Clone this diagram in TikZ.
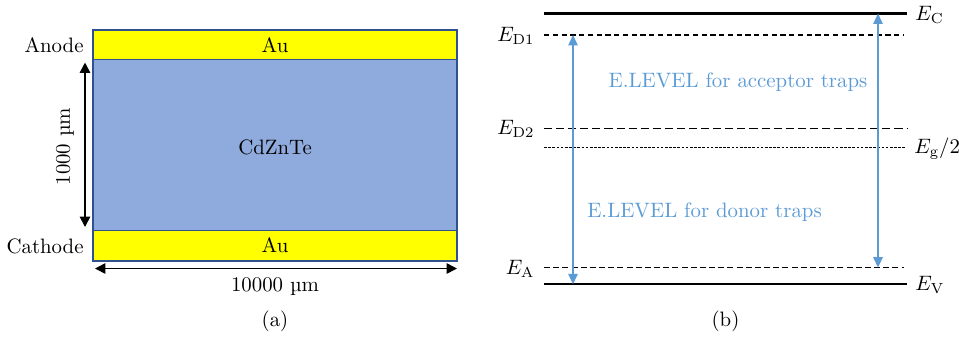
\documentclass[tikz,border=0pt]{standalone}
\usepackage{fontspec}
\usetikzlibrary{arrows.meta}
\definecolor{czt}{HTML}{8FAADC}
\definecolor{gold}{HTML}{FFFF00}
\definecolor{rim}{HTML}{2F528F}
\definecolor{trap}{HTML}{5B9BD5}
\tikzset{
  layer/.style={draw=rim, line width=0.6pt},
  dim/.style={line width=0.8pt, {Triangle[length=5pt,width=5pt]}-{Triangle[length=5pt,width=5pt]}},
  trapdim/.style={trap, line width=0.7pt, {Triangle[length=5pt,width=4.5pt]}-{Triangle[length=5pt,width=4.5pt]}},
  band/.style={line width=1pt},
  lvl/.style={line width=0.5pt},
}
\begin{document}
\begin{tikzpicture}[x=0.48pt, y=-0.48pt]
          \useasboundingbox (0, 0) rectangle (959, 336);
        %
        % (a) detector layers:
          \fill[gold] (93, 30) rectangle (457, 59.5);
          \fill[czt] (93, 59.5) rectangle (457, 230.5);
          \fill[gold] (93, 230.5) rectangle (457, 261);
          \draw[layer] (93, 30) rectangle (457, 261);
          \draw[layer] (93, 59.5) -- (457, 59.5);
          \draw[layer] (93, 230.5) -- (457, 230.5);
          \node (auTop) at (275, 45) {Au};
          \node (cztBody) at (275, 147) {CdZnTe};
          \node (auBot) at (275, 245.5) {Au};
          \node[anchor=east, inner sep=0pt] (anode) at (84, 45) {Anode};
          \node[anchor=east, inner sep=0pt] (cathode) at (84, 246.5) {Cathode};
        %
        % (a) dimensions:
          \coordinate (thickTop) at (85, 62.5);
          \coordinate (thickBot) at (85, 227);
          \coordinate (wideL) at (95, 268.5);
          \coordinate (wideR) at (457, 268.5);
          \draw[dim] (thickTop) -- (thickBot);
          \draw[dim] (wideL) -- (wideR);
          \node[rotate=90] (thickLbl) at (65, 146.5) {1000 µm};
          \node (wideLbl) at (275, 286.5) {10000 µm};
          \node (capA) at (275, 321.5) {(a)};
        %
        % (b) energy levels:
          \coordinate (cL) at (544, 13.5);   \coordinate (cR) at (907, 13.5);
          \coordinate (d1L) at (544, 35);    \coordinate (d1R) at (904, 35);
          \coordinate (d2L) at (544, 128.3); \coordinate (d2R) at (907, 128.3);
          \coordinate (gL) at (544, 147.7);  \coordinate (gR) at (905, 147.7);
          \coordinate (aL) at (544, 267.6);  \coordinate (aR) at (904, 267.6);
          \coordinate (vL) at (544, 284.3);  \coordinate (vR) at (907, 284.3);
          \draw[band] (cL) -- (cR);
          \draw[lvl, dash pattern=on 2.6pt off 1.6pt] (d1L) -- (d1R);
          \draw[lvl, dash pattern=on 3.9pt off 1.9pt] (d2L) -- (d2R);
          \draw[lvl, dash pattern=on 1.3pt off 0.7pt] (gL) -- (gR);
          \draw[lvl, dash pattern=on 2.9pt off 1.5pt] (aL) -- (aR);
          \draw[band] (vL) -- (vR);
          \node[anchor=west, inner sep=0pt] (eC) at (915, 15) {$E_{\mathrm{C}}$};
          \node[anchor=west, inner sep=0pt] (eG) at (914, 149) {$E_{\mathrm{g}}/2$};
          \node[anchor=west, inner sep=0pt] (eV) at (915, 285) {$E_{\mathrm{V}}$};
          \node[anchor=east, inner sep=0pt] (eD1) at (535, 36) {$E_{\mathrm{D1}}$};
          \node[anchor=east, inner sep=0pt] (eD2) at (535, 129) {$E_{\mathrm{D2}}$};
          \node[anchor=east, inner sep=0pt] (eA) at (535, 268.5) {$E_{\mathrm{A}}$};
        %
        % (b) trap ranges:
          \coordinate (donTop) at (573, 35);
          \coordinate (donBot) at (573, 284.3);
          \coordinate (accTop) at (878, 13.5);
          \coordinate (accBot) at (878, 267.6);
          \draw[trapdim] (donTop) -- (donBot);
          \draw[trapdim] (accTop) -- (accBot);
          \node[trap] (accLbl) at (738, 82) {E.LEVEL for acceptor traps};
          \node[trap] (donLbl) at (704.5, 212) {E.LEVEL for donor traps};
          \node (capB) at (725.5, 321.5) {(b)};
            \end{tikzpicture}
\end{document}
